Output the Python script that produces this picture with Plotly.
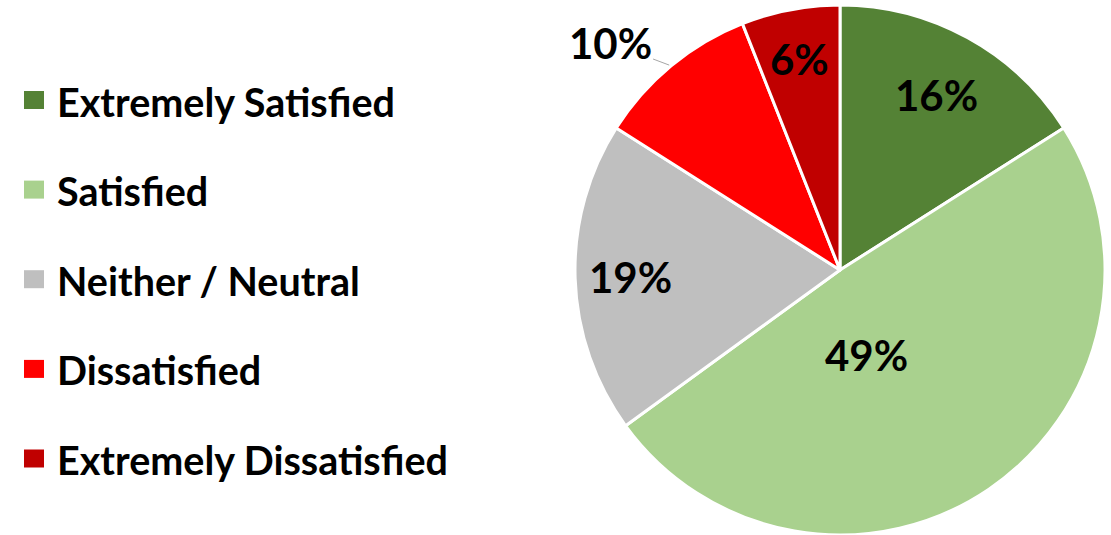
import math
import plotly.graph_objects as go

categories = ["Extremely Satisfied", "Satisfied", "Neither / Neutral", "Dissatisfied", "Extremely Dissatisfied"]
values = [16, 49, 19, 10, 6]
colors = ["#548235", "#A9D18E", "#BFBFBF", "#FF0000", "#C00000"]
label_text = ["16%", "49%", "19%", "10%", "6%"]

W, H = 1111, 535
cx, cy, r = 840, 270, 265          # pie centre / radius in pixels (layout)
label_radius = [0.755, 0.34, 0.79, 1.0, 0.81]   # radial placement of each label (style)
outside = [False, False, False, True, False]

fig = go.Figure()
fig.add_trace(go.Pie(
    labels=categories,
    values=values,
    sort=False,
    direction="clockwise",
    rotation=0,
    marker=dict(colors=colors, line=dict(color="white", width=3)),
    textinfo="none",
    domain=dict(x=[(cx - r) / W, (cx + r) / W], y=[(H - cy - r) / H, (H - cy + r) / H]),
    showlegend=False,
    hoverinfo="label+percent",
))

total = sum(values)
cum = 0
for v, txt, f, out in zip(values, label_text, label_radius, outside):
    mid = (cum + v / 2) / total * 2 * math.pi
    cum += v
    px = cx + f * r * math.sin(mid)
    py = cy - f * r * math.cos(mid)
    font = dict(family="Lato", size=42, color="black", weight="bold")
    if f < 0.5:
        px -= 24   # nudge the large-slice label toward the centre as in the source
        py += 10
    if out:
        fig.add_annotation(x=px / W, y=1 - py / H, xref="paper", yref="paper",
                           text=txt, showarrow=True, arrowhead=0, arrowwidth=1,
                           arrowcolor="#A6A6A6", ax=-61, ay=-23, standoff=2,
                           font=font)
    else:
        fig.add_annotation(x=px / W, y=1 - py / H, xref="paper", yref="paper",
                           xanchor="center", yanchor="middle",
                           text=txt, showarrow=False, font=font)

legend_y = [100, 189.6, 279.2, 368.9, 458.5]
for cat, col, yy in zip(categories, colors, legend_y):
    fig.add_shape(type="rect", xref="paper", yref="paper",
                  x0=24 / W, x1=44 / W, y0=1 - (yy + 9) / H, y1=1 - (yy - 9) / H,
                  fillcolor=col, line=dict(width=0))
    fig.add_annotation(x=55 / W, y=1 - (yy + 1) / H, xref="paper", yref="paper",
                       text=cat, showarrow=False, xanchor="left", yanchor="middle",
                       font=dict(family="Lato", size=39.5, color="black", weight="bold"))

fig.update_layout(
    width=W, height=H,
    margin=dict(l=0, r=0, t=0, b=0),
    paper_bgcolor="white",
    plot_bgcolor="white",
)
fig.write_html("out.html", config={"displayModeBar": False},
               post_script="document.body.style.margin='0';document.body.style.padding='0';")
